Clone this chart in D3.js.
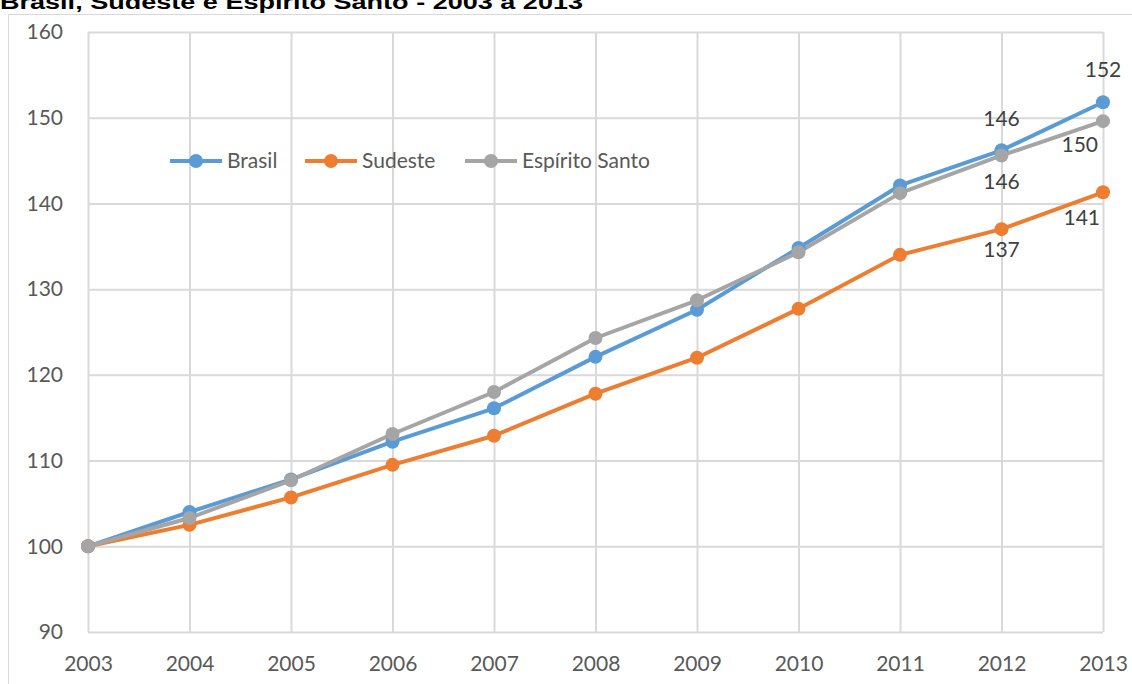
<!DOCTYPE html>
<html>
<head>
<meta charset="utf-8">
<script src="https://cdn.jsdelivr.net/npm/d3@7"></script>
<style>
  body { margin: 0; background: #fff; }
  svg { display: block; }
</style>
</head>
<body>
<div id="chart"></div>
<script>
const years = [2003, 2004, 2005, 2006, 2007, 2008, 2009, 2010, 2011, 2012, 2013];
const brasil = [100, 104.0, 107.8, 112.2, 116.1, 122.1, 127.6, 134.8, 142.1, 146.2, 151.8];
const sudeste = [100, 102.5, 105.7, 109.5, 112.9, 117.8, 122.0, 127.7, 134.0, 137.0, 141.3];
const espiritoSanto = [100, 103.3, 107.7, 113.1, 118.0, 124.3, 128.7, 134.3, 141.2, 145.6, 149.6];
const yTicks = [90, 100, 110, 120, 130, 140, 150, 160];
const seriesNames = ["Brasil", "Sudeste", "Espírito Santo"];
const title = "Brasil, Sudeste e Espírito Santo - 2003 a 2013";

const W = 1132, H = 684;
const margin = { top: 32, right: 29, bottom: 52, left: 88 };
const width = W - margin.left - margin.right;
const height = H - margin.top - margin.bottom;
const font = "Lato, 'Open Sans', sans-serif";
const fontSize = 21;

const colors = { "Brasil": "#5B9BD5", "Sudeste": "#ED7D31", "Espírito Santo": "#A5A5A5" };
const series = [
  { name: "Brasil", values: brasil },
  { name: "Sudeste", values: sudeste },
  { name: "Espírito Santo", values: espiritoSanto }
];

const svg = d3.select("#chart").append("svg")
  .attr("width", W).attr("height", H);

// outer chart frame
svg.append("rect")
  .attr("x", 8.5).attr("y", 14.5)
  .attr("width", W + 10).attr("height", H + 10)
  .attr("fill", "none").attr("stroke", "#d9d9d9").attr("stroke-width", 1);

// title (clipped at the top in the original)
svg.append("text")
  .attr("x", 0).attr("y", 9)
  .attr("font-family", "'Liberation Sans', Arial, sans-serif")
  .attr("font-weight", "bold").attr("font-size", 20)
  .attr("textLength", 583).attr("lengthAdjust", "spacingAndGlyphs")
  .attr("fill", "#000")
  .text(title);

const g = svg.append("g").attr("transform", `translate(${margin.left},${margin.top})`);

const x = d3.scalePoint().domain(years).range([0, width]);
const y = d3.scaleLinear().domain([90, 160]).range([height, 0]);

// gridlines
g.append("g").attr("class", "x-grid")
  .attr("transform", `translate(0,${height})`)
  .call(d3.axisBottom(x).tickSize(-height).tickFormat(""))
  .call(s => s.select(".domain").remove())
  .selectAll("line").attr("stroke", "#d9d9d9").attr("stroke-width", 2);

g.append("g").attr("class", "y-grid")
  .call(d3.axisLeft(y).tickValues(yTicks).tickSize(-width).tickFormat(""))
  .call(s => s.select(".domain").remove())
  .selectAll("line").attr("stroke", "#d9d9d9").attr("stroke-width", 2);

// axis labels
g.append("g").attr("class", "x-axis")
  .attr("transform", `translate(0,${height})`)
  .call(d3.axisBottom(x).tickSize(0).tickPadding(24))
  .call(s => s.select(".domain").remove())
  .selectAll("text")
  .attr("font-family", font).attr("font-size", fontSize).attr("fill", "#595959");

g.append("g").attr("class", "y-axis")
  .call(d3.axisLeft(y).tickValues(yTicks).tickSize(0).tickPadding(25))
  .call(s => s.select(".domain").remove())
  .selectAll("text")
  .attr("font-family", font).attr("font-size", fontSize).attr("fill", "#595959");

// lines and markers
const line = d3.line().x((d, i) => x(years[i])).y(d => y(d));

series.forEach(s => {
  g.append("path")
    .datum(s.values)
    .attr("fill", "none")
    .attr("stroke", colors[s.name])
    .attr("stroke-width", 4)
    .attr("stroke-linejoin", "round")
    .attr("d", line);
});
series.forEach(s => {
  g.append("g").selectAll("circle")
    .data(s.values)
    .enter().append("circle")
    .attr("cx", (d, i) => x(years[i]))
    .attr("cy", d => y(d))
    .attr("r", 7)
    .attr("fill", colors[s.name]);
});

// data labels on the last two years
const labels = [
  { s: 0, i: 9, dx: 0, dy: -24, anchor: "middle" },
  { s: 0, i: 10, dx: 0, dy: -25, anchor: "middle" },
  { s: 2, i: 9, dx: 0, dy: 34, anchor: "middle" },
  { s: 2, i: 10, dx: -5, dy: 31, anchor: "end" },
  { s: 1, i: 9, dx: 0, dy: 28, anchor: "middle" },
  { s: 1, i: 10, dx: -3, dy: 33, anchor: "end" }
];
g.append("g").selectAll("text")
  .data(labels)
  .enter().append("text")
  .attr("x", d => x(years[d.i]) + d.dx)
  .attr("y", d => y(series[d.s].values[d.i]) + d.dy)
  .attr("text-anchor", d => d.anchor)
  .attr("font-family", font).attr("font-size", fontSize).attr("fill", "#404040")
  .text(d => Math.round(series[d.s].values[d.i]));

// legend
const legendX = [170, 305, 465];
const legend = svg.append("g").attr("transform", "translate(0,161)");
seriesNames.forEach((name, i) => {
  const lg = legend.append("g").attr("transform", `translate(${legendX[i]},0)`);
  lg.append("line").attr("x1", 0).attr("x2", 52)
    .attr("stroke", colors[name]).attr("stroke-width", 4);
  lg.append("circle").attr("cx", 26).attr("r", 7).attr("fill", colors[name]);
  lg.append("text").attr("x", 57).attr("dy", "0.35em")
    .attr("font-family", font).attr("font-size", fontSize).attr("fill", "#595959")
    .text(name);
});
</script>
</body>
</html>
